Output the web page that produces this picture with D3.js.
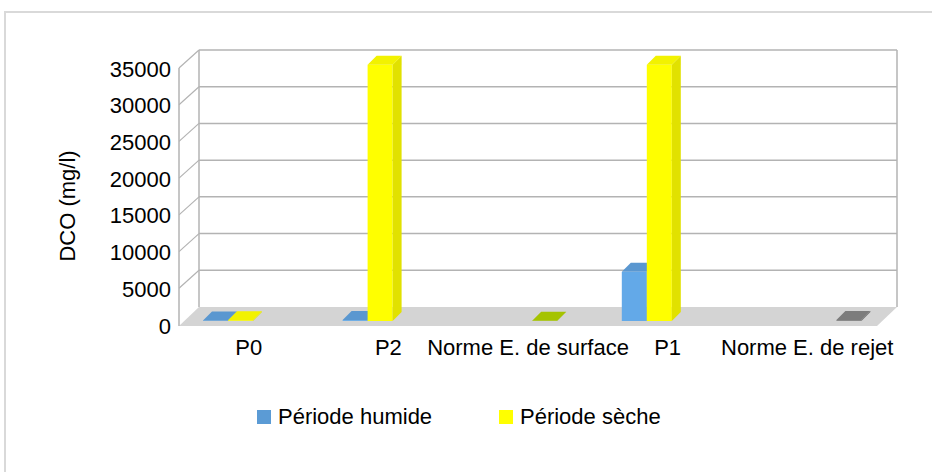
<!DOCTYPE html>
<html>
<head>
    <meta charset="utf-8">
    <script src="https://d3js.org/d3.v7.min.js"></script>
    <style>
        body { margin: 0; background: #fff; }
        text { font-family: "Liberation Sans", Arial, sans-serif; fill: #000; }
    </style>
</head>
<body>
<script>

    // data
    var categories = ["P0", "P2", "Norme E. de surface", "P1", "Norme E. de rejet"];
    var seriesNames = ["Période humide", "Période sèche", "Norme E. de surface", "Norme E. de rejet"];
    var humide = [80, 120, null, 6700, null];
    var seche = [100, 34900, null, 34900, null];
    var normeSurface = [null, null, 30, null, null];
    var normeRejet = [null, null, null, null, 120];
    var yTicks = [0, 5000, 10000, 15000, 20000, 25000, 30000, 35000];
    var legendNames = ["Période humide", "Période sèche"];

    var width = 932;
    var height = 472;

    // front / back faces of the 3d box
    var front = {left: 179, right: 877, bottom: 325};
    var depth = {dx: 20, dy: 18};
    var barDepth = {dx: 9, dy: 9};
    var barBase = 321;

    var colors = {
        "Période humide": {front: "#63a9e8", top: "#5a97d0", side: "#4f86ba", legend: "#5b9bd5"},
        "Période sèche": {front: "#ffff00", top: "#f2f200", side: "#e1e100", legend: "#ffff00"},
        "Norme E. de surface": {front: "#a9c800", top: "#a5c300", side: "#94af00"},
        "Norme E. de rejet": {front: "#808080", top: "#7c7c7c", side: "#6c6c6c"}
    };

    var values = [humide, seche, normeSurface, normeRejet];

    var svg = d3.select('body').append('svg')
        .attr('width', width)
        .attr('height', height);

    svg.append('rect')
        .attr('x', 5).attr('y', 12)
        .attr('width', 960).attr('height', 500)
        .attr('fill', '#fff')
        .attr('stroke', '#d9d9d9')
        .attr('stroke-width', 2);

    var xScale = d3.scaleBand()
        .domain(categories)
        .range([front.left, front.right]);

    var xSub = d3.scaleBand()
        .domain(seriesNames)
        .range([24, 124]);

    // value -> y on the front plane of the box
    var yFront = d3.scaleLinear()
        .domain([0, 35000])
        .range([front.bottom, front.bottom - 257]);
    var yBack = function(v) { return yFront(v) - depth.dy; };
    // value -> y on the plane where the bars stand
    var yBar = d3.scaleLinear()
        .domain([0, 35000])
        .range([barBase, barBase - 257]);

    var box = svg.append('g');
    var grid = '#b3b3b3';

    // floor
    box.append('path')
        .attr('d', d3.line()([
            [front.left + depth.dx, yBack(0)],
            [front.right + depth.dx, yBack(0)],
            [front.right, yFront(0) + 1],
            [front.left, yFront(0) + 1]
        ]) + 'Z')
        .attr('fill', '#d4d4d4');

    // back wall grid
    box.selectAll('line.back').data(yTicks.slice(1))
        .enter().append('line')
        .attr('x1', front.left + depth.dx)
        .attr('x2', front.right + depth.dx)
        .attr('y1', function(d) { return yBack(d); })
        .attr('y2', function(d) { return yBack(d); })
        .attr('stroke', grid).attr('stroke-width', 1.5);

    // left wall grid
    box.selectAll('line.side').data(yTicks.slice(1))
        .enter().append('line')
        .attr('x1', front.left)
        .attr('x2', front.left + depth.dx)
        .attr('y1', function(d) { return yFront(d); })
        .attr('y2', function(d) { return yBack(d); })
        .attr('stroke', grid).attr('stroke-width', 1.2);

    // wall edges
    [[front.left, yFront(35000), front.left, yFront(0) + 1],
     [front.left + depth.dx, yBack(35000), front.left + depth.dx, yBack(0)],
     [front.right + depth.dx, yBack(35000), front.right + depth.dx, yBack(0)]].forEach(function(l) {
        box.append('line')
            .attr('x1', l[0]).attr('y1', l[1]).attr('x2', l[2]).attr('y2', l[3])
            .attr('stroke', grid).attr('stroke-width', 1.5);
    });

    // bars
    var barW = xSub.bandwidth();
    var bars = [];
    categories.forEach(function(c, i) {
        seriesNames.forEach(function(s, j) {
            if (values[j][i] != null) {
                bars.push({cat: c, series: s, value: values[j][i]});
            }
        });
    });

    var barG = svg.append('g').selectAll('g').data(bars)
        .enter().append('g');

    barG.append('rect')
        .attr('x', function(d) { return xScale(d.cat) + xSub(d.series); })
        .attr('y', function(d) { return yBar(d.value); })
        .attr('width', barW)
        .attr('height', function(d) { return barBase - yBar(d.value); })
        .attr('fill', function(d) { return colors[d.series].front; });

    barG.append('path')
        .attr('d', function(d) {
            var x = xScale(d.cat) + xSub(d.series) + barW, y = yBar(d.value);
            return d3.line()([[x, y], [x + barDepth.dx, y - barDepth.dy],
                [x + barDepth.dx, barBase - barDepth.dy], [x, barBase]]) + 'Z';
        })
        .attr('fill', function(d) { return colors[d.series].side; });

    barG.append('path')
        .attr('d', function(d) {
            var x = xScale(d.cat) + xSub(d.series), y = yBar(d.value);
            return d3.line()([[x, y], [x + barDepth.dx, y - barDepth.dy],
                [x + barW + barDepth.dx, y - barDepth.dy], [x + barW, y]]) + 'Z';
        })
        .attr('fill', function(d) { return colors[d.series].top; });

    // y axis labels
    var yAxis = d3.axisLeft(yFront)
        .tickValues(yTicks)
        .tickFormat(d3.format('d'))
        .tickSize(0)
        .tickPadding(0);

    var gY = svg.append('g')
        .attr('transform', 'translate(171,1)')
        .call(yAxis);
    gY.select('.domain').remove();
    gY.selectAll('text').style('font-size', '22px').attr('fill', '#000');

    // category labels
    var xAxis = d3.axisBottom(xScale)
        .tickSize(0)
        .tickPadding(3);

    var gX = svg.append('g')
        .attr('transform', 'translate(0,336)')
        .call(xAxis);
    gX.select('.domain').remove();
    gX.selectAll('text').style('font-size', '22px').attr('fill', '#000');

    // axis title
    svg.append('text')
        .attr('transform', 'translate(75,206) rotate(-90)')
        .attr('text-anchor', 'middle')
        .style('font-size', '22px')
        .text('DCO (mg/l)');

    // legend
    var legend = svg.append('g').selectAll('g').data(legendNames)
        .enter().append('g')
        .attr('transform', function(d, i) { return 'translate(' + (257 + i * 242) + ',410)'; });

    legend.append('rect')
        .attr('width', 14).attr('height', 14)
        .attr('fill', function(d) { return colors[d].legend; });

    legend.append('text')
        .attr('x', 21)
        .attr('y', 14)
        .style('font-size', '22px')
        .text(function(d) { return d; });

</script>
</body>
</html>
